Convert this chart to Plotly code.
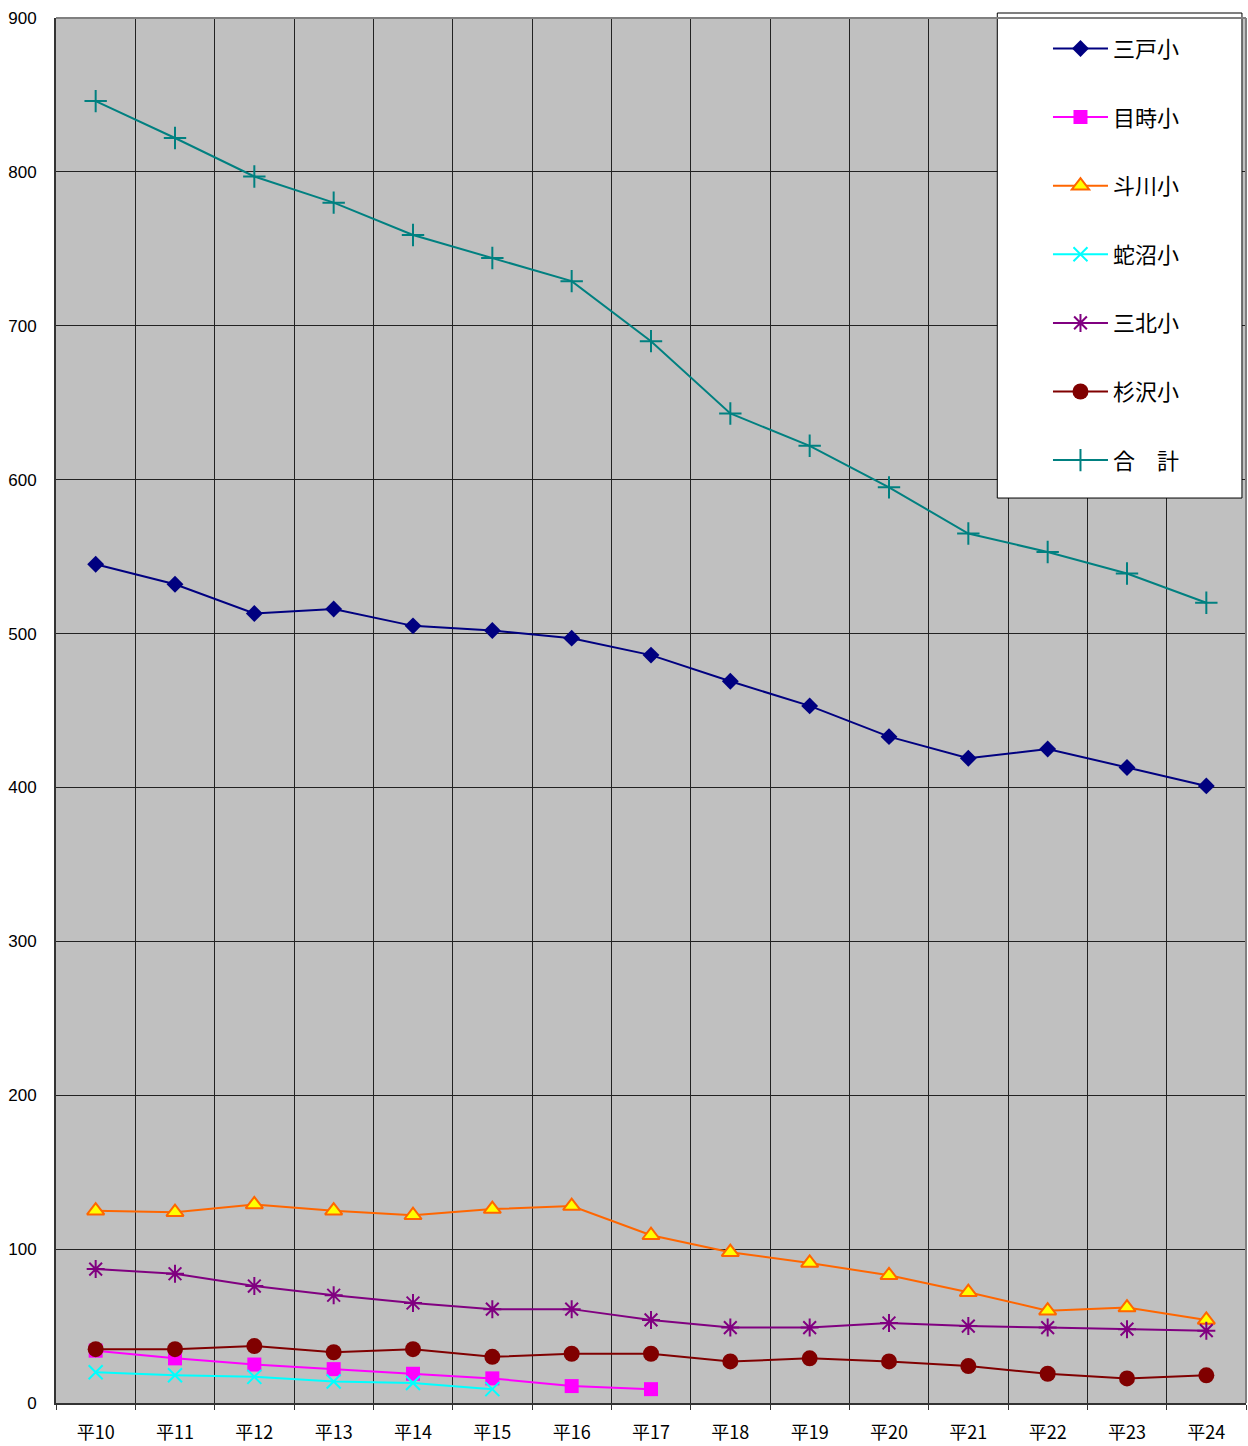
import plotly.graph_objects as go

# Fiscal years (Heisei era)
years = ["平10", "平11", "平12", "平13", "平14", "平15", "平16", "平17",
         "平18", "平19", "平20", "平21", "平22", "平23", "平24"]

# Enrolment per school
sannohe = [545, 532, 513, 516, 505, 502, 497, 486, 469, 453, 433, 419, 425, 413, 401]
metoki = [34, 29, 25, 22, 19, 16, 11, 9]
togawa = [125, 124, 129, 125, 122, 126, 128, 109, 98, 91, 83, 72, 60, 62, 54]
januma = [20, 18, 17, 14, 13, 9]
sanboku = [87, 84, 76, 70, 65, 61, 61, 54, 49, 49, 52, 50, 49, 48, 47]
sugisawa = [35, 35, 37, 33, 35, 30, 32, 32, 27, 29, 27, 24, 19, 16, 18]
total = [846, 822, 797, 780, 759, 744, 729, 690, 643, 622, 595, 565, 553, 539, 520]

y_ticks = [0, 100, 200, 300, 400, 500, 600, 700, 800, 900]

series = [
    ("三戸小", sannohe, dict(color="#000080", width=2),
     dict(symbol="diamond", size=13, color="#000080")),
    ("目時小", metoki, dict(color="#FF00FF", width=2),
     dict(symbol="square", size=14, color="#FF00FF")),
    ("斗川小", togawa, dict(color="#FF6600", width=2),
     dict(symbol="triangle-up", size=15, color="#FFFF00",
          line=dict(color="#FF6600", width=2))),
    ("蛇沼小", januma, dict(color="#00FFFF", width=2),
     dict(symbol="x-thin-open", size=14, color="#00FFFF",
          line=dict(color="#00FFFF", width=2))),
    ("三北小", sanboku, dict(color="#800080", width=2),
     dict(symbol="asterisk-open", size=15, color="#800080",
          line=dict(color="#800080", width=2))),
    ("杉沢小", sugisawa, dict(color="#800000", width=2),
     dict(symbol="circle", size=16, color="#800000")),
    ("合　計", total, dict(color="#008080", width=2),
     dict(symbol="cross-thin-open", size=16, color="#008080",
          line=dict(color="#008080", width=2))),
]

fig = go.Figure()
for i, (name, vals, line, marker) in enumerate(series):
    fig.add_trace(go.Scatter(
        x=years[:len(vals)], y=vals, name=name, mode="lines+markers",
        line=line, marker=marker, legendgroup=f"g{i}",
    ))

# white legend panel
fig.add_shape(type="rect", xref="paper", yref="paper",
              x0=0.791, x1=0.9966, y0=0.6534, y1=1.0036,
              fillcolor="white", line=dict(color="black", width=1),
              layer="above")

fig.update_layout(
    width=1248, height=1446,
    margin=dict(l=56, r=2, t=18, b=43),
    paper_bgcolor="white",
    plot_bgcolor="#C0C0C0",
    font=dict(family="Noto Sans CJK JP, sans-serif", color="black"),
    showlegend=True,
    legend=dict(
        x=0.8336, y=0.993, xanchor="left", yanchor="top",
        bgcolor="rgba(0,0,0,0)", borderwidth=0,
        font=dict(size=22, family="Noto Sans CJK JP"),
        traceorder="grouped", tracegroupgap=37, itemwidth=55,
    ),
    xaxis=dict(
        type="category", categoryorder="array", categoryarray=years,
        tickson="boundaries", showgrid=True, gridcolor="#222222", gridwidth=1,
        ticks="outside", ticklen=5, tickcolor="#333333",
        ticklabelstandoff=12,
        tickfont=dict(size=18, family="Noto Sans CJK JP"),
        showline=True, linecolor="#333333", linewidth=2, mirror=False,
        range=[-0.5, len(years) - 0.5],
    ),
    yaxis=dict(
        range=[0, 900], tickvals=y_ticks,
        showgrid=True, gridcolor="#222222", gridwidth=1,
        ticks="", ticklabelstandoff=14,
        tickfont=dict(size=17, family="Arial, Liberation Sans"),
        showline=True, linecolor="#333333", linewidth=2, zeroline=False,
    ),
)

# lighter top/right frame of the plot area
fig.add_shape(type="line", xref="paper", yref="paper", x0=0, x1=1, y0=1, y1=1,
              line=dict(color="#808080", width=2))
fig.add_shape(type="line", xref="paper", yref="paper", x0=1, x1=1, y0=0, y1=1,
              line=dict(color="#808080", width=2))

fig.write_html("out.html")
